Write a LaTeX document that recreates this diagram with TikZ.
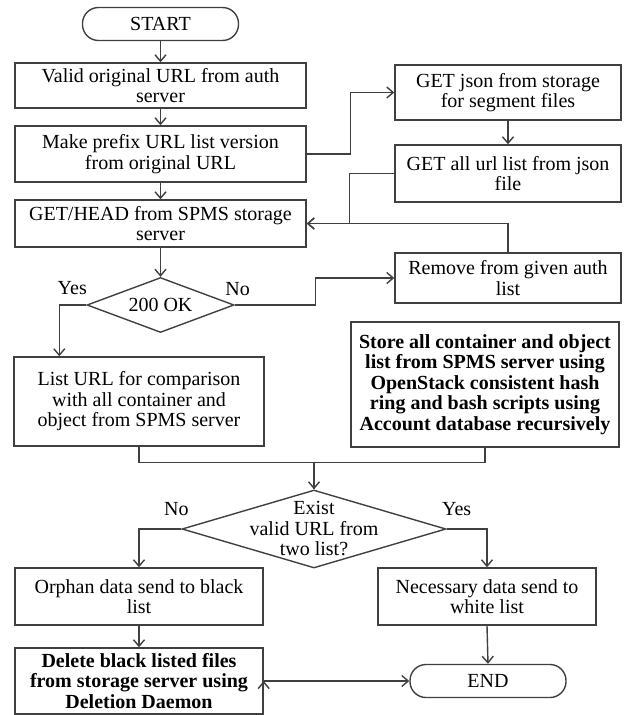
\documentclass[tikz,border=0pt]{standalone}
\usepackage{fontspec}
\setmainfont{Liberation Serif}
\usetikzlibrary{arrows.meta,positioning,shapes.geometric}

\begin{document}
\begin{tikzpicture}[x=1pt,y=1pt,node distance=60pt,on grid,auto,
	>={Straight Barb[length=6.5pt,width=11pt]}]
	\tikzstyle{every node}=[font=\fontsize{20}{20.5}\selectfont,align=center]
	\tikzstyle{box}=[draw=black!75,line width=1.4pt,inner sep=2pt]
	\tikzstyle{term}=[box,rounded corners=16pt,minimum width=156pt,minimum height=33pt]
	\tikzstyle{mainbox}=[box,minimum width=291pt]
	\tikzstyle{sidebox}=[box,minimum width=226pt]
	\tikzstyle{decision}=[box,diamond,inner xsep=-80pt,inner ysep=-40pt]
	\tikzstyle{flow}=[draw=black!75,line width=1.4pt]

	\useasboundingbox (-160.5,24) rectangle (466.5,-691);

	% main column
	\node[term] (start) {START};
	\node[mainbox,minimum height=45pt] (valid) [below=61.5pt of start] {Valid original URL from auth\\server};
	\node[mainbox,minimum height=56pt] (prefix) [below=68.5pt of valid] {Make prefix URL list version\\from original URL};
	\node[mainbox,minimum height=47pt] (gethead) [below=69.5pt of prefix] {GET/HEAD from SPMS storage\\server};
	\node[decision,minimum width=147pt,minimum height=55pt] (ok) [below=81.5pt of gethead] {200 OK};
	\node[box,minimum width=250pt,minimum height=89pt] (listurl) [below left=96.5pt and 21.5pt of ok] {List URL for comparison\\with all container and\\object from SPMS server};

	% right column
	\node[sidebox,minimum height=55pt] (json) [above right=61.5pt and 347.5pt of prefix] {GET json from storage\\for segment files};
	\node[sidebox,minimum height=57pt] (allurl) [below=81pt of json] {GET all url list from json\\file};
	\node[sidebox,minimum height=50pt] (remove) [below=104.5pt of allurl] {Remove from given auth\\list};
	\node[box,minimum width=268pt,minimum height=125pt,font=\fontsize{20}{20.5}\selectfont\bfseries] (store) [below left=106.5pt and 23pt of remove] {Store all container and object\\list from SPMS server using\\OpenStack consistent hash\\ring and bash scripts using\\Account database recursively};

	% comparison
	\node[decision,minimum width=264pt,minimum height=78pt] (exist) [below right=127.5pt and 175pt of listurl] {Exist\\valid URL from\\two list?};
	\node[box,minimum width=248pt,minimum height=57pt] (orphan) [below=195pt of listurl] {Orphan data send to black\\list};
	\node[box,minimum width=218pt,minimum height=57pt] (necessary) [right=348pt of orphan] {Necessary data send to\\white list};
	\node[box,minimum width=248pt,minimum height=66pt,font=\fontsize{20}{20.5}\selectfont\bfseries] (delete) [below=84.5pt of orphan] {Delete black listed files\\from storage server using\\Deletion Daemon};
	\node[term] (end) [right=349pt of delete] {END};

	% answers
	\node (yes1) at ([xshift=-14pt,yshift=17pt]ok.west) {Yes};
	\node (no1) at ([xshift=3pt,yshift=16pt]ok.east) {No};
	\node (no2) at ([xshift=-5pt,yshift=20pt]exist.west) {No};
	\node (yes2) at ([xshift=10pt,yshift=20pt]exist.east) {Yes};

	\path[flow,->]
	(start.south) edge (valid.north)
	(valid.south) edge (prefix.north)
	(prefix.south) edge (gethead.north)
	(gethead.south) edge (ok.north)
	(json.south) edge (allurl.north)
	(orphan.south) edge (delete.north)
	(necessary.south) edge (end.north)
	(delete.east) edge (end.west)
	;
	\draw[flow,->] (prefix.east) -- ++(44,0) |- (json.west);
	\draw[flow,->] (allurl.west) -- ++(-45,0) |- (gethead.east);
	\draw[flow,->] (remove.north) |- (gethead.east);
	\draw[flow,->] (ok.east) -- ++(81,0) |- (remove.west);
	\draw[flow,->] (ok.west) -| ([xshift=46pt]listurl.north west);
	\draw[flow,->] (listurl.south) -- ++(0,-16) -| (exist.north);
	\draw[flow] (store.south) -- ++(0,-15) -| (exist.north);
	\draw[flow,->] (exist.west) -| (orphan.north);
	\draw[flow,->] (exist.east) -| (necessary.north);
\end{tikzpicture}
\end{document}
